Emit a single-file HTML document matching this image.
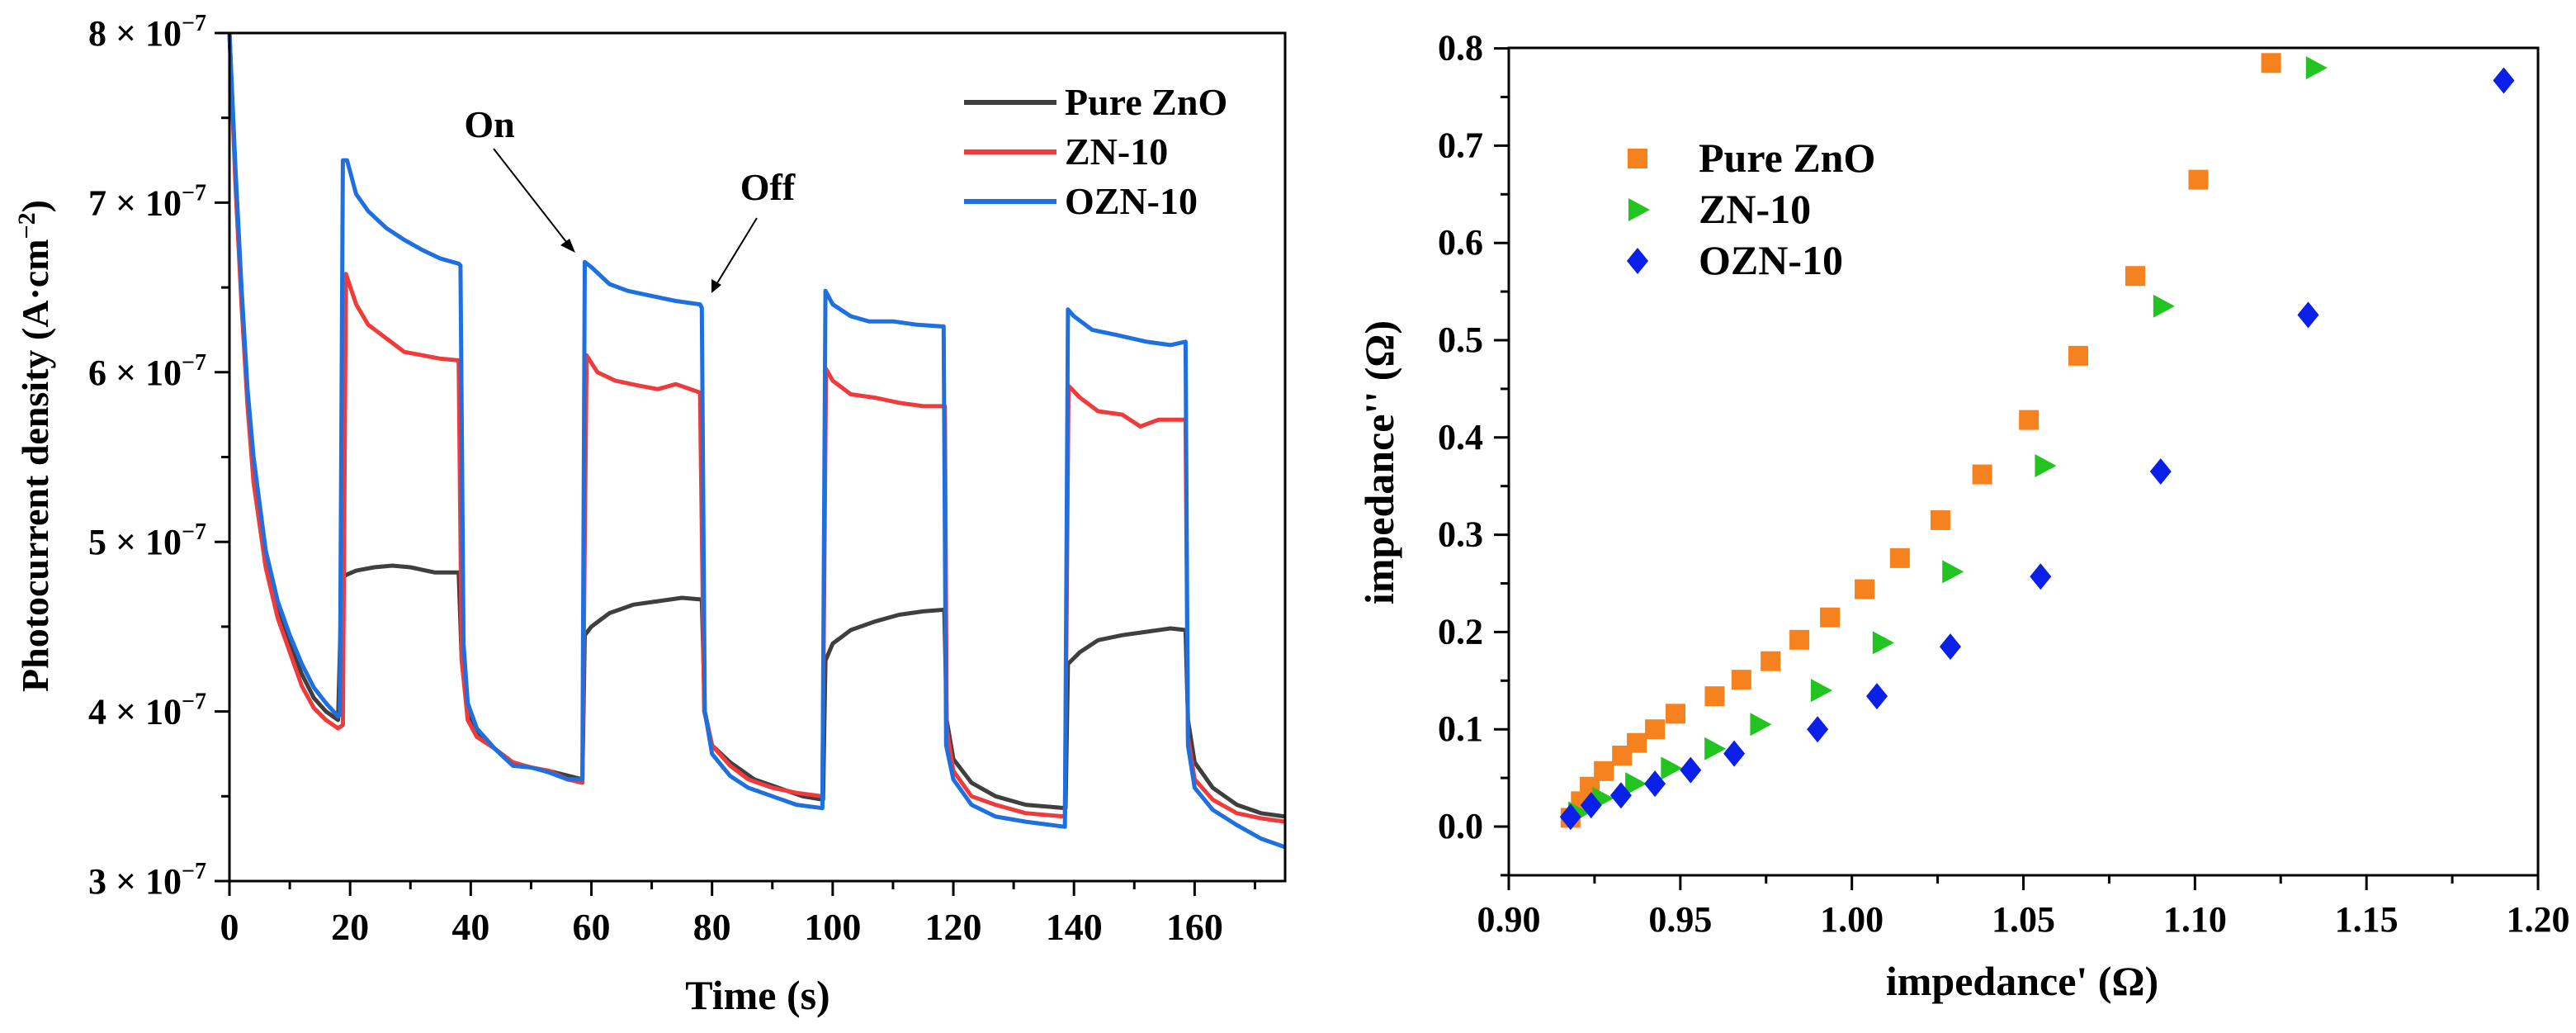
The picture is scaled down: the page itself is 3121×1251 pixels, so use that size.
<!DOCTYPE html>
<html><head><meta charset="utf-8"><style>
html,body{margin:0;padding:0;background:#fff;}
svg{display:block;font-family:"Liberation Serif","Times New Roman",serif;font-weight:bold;}
svg text{font-family:"Liberation Serif","Times New Roman",serif;}
</style></head><body>
<svg id="fig" width="3121" height="1251" viewBox="0 0 3121 1251" xmlns="http://www.w3.org/2000/svg">
<g id="left"></g>
<g id="right"></g>
</svg>
<script>
// ---- Left chart data (values in 1e-7 A/cm2) ----
const tBlue=[0,1,2,3,4,6,8,10,12,14,16,18,18.3,18.8,19.5,21,23,26,29,32,35,38,38.3,38.8,39.5,41,44,47,50,53,56,58.5,58.9,60,63,66,70,74,78,78.3,78.8,80,83,86,90,94,98.3,98.8,100,103,106,110,114,118,118.4,118.8,120,123,127,132,138.5,139,140,143,147,152,156,158.5,158.9,160,163,167,171,175];
const vBlue=[8.0,7.2,6.5,5.9,5.5,4.95,4.65,4.45,4.28,4.14,4.05,3.97,3.98,7.25,7.25,7.05,6.95,6.85,6.78,6.72,6.67,6.64,6.63,4.4,4.05,3.9,3.78,3.68,3.67,3.64,3.6,3.6,6.65,6.62,6.52,6.48,6.45,6.42,6.4,6.38,4.0,3.75,3.62,3.55,3.5,3.45,3.43,6.48,6.4,6.33,6.3,6.3,6.28,6.27,6.27,3.8,3.6,3.45,3.38,3.35,3.32,6.37,6.33,6.25,6.22,6.18,6.16,6.18,3.8,3.55,3.42,3.33,3.25,3.2];
const tRed=[0,1,2,3,4,6,8,10,12,14,16,18,18.8,19.3,21,23,26,29,32,35,38,38.5,39.5,41,44,47,50,53,56,58.5,59.2,61,64,68,71,74,78,78.7,80,83,86,90,94,98.3,98.9,100,103,107,111,115,118.6,118.9,120,123,127,132,138.5,139.1,141,144,148,151,154,158.5,158.9,160,163,167,171,175];
const vRed=[8.0,7.1,6.4,5.8,5.35,4.85,4.55,4.35,4.15,4.02,3.95,3.9,3.92,6.58,6.4,6.28,6.2,6.12,6.1,6.08,6.07,4.3,3.95,3.85,3.78,3.7,3.67,3.65,3.6,3.58,6.1,6.0,5.95,5.92,5.9,5.93,5.88,4.0,3.8,3.68,3.6,3.55,3.52,3.5,6.02,5.95,5.87,5.85,5.82,5.8,5.8,3.9,3.65,3.5,3.45,3.4,3.38,5.92,5.85,5.77,5.75,5.68,5.72,5.72,3.85,3.6,3.48,3.4,3.37,3.35];
const tBlack=[0,1,2,3,4,6,8,10,12,14,16,18,18.6,19,21,24,27,30,34,38,38.5,39.5,41,44,47,50,54,58.5,58.9,60,63,67,71,75,78.3,78.8,80,83,87,91,95,98.4,98.8,100,103,107,111,115,118.5,118.9,120,123,127,132,138.6,139,141,144,148,152,156,158.5,158.9,160,163,167,171,175];
const vBlack=[8.0,7.15,6.45,5.85,5.42,4.9,4.6,4.4,4.22,4.08,4.0,3.95,4.75,4.8,4.83,4.85,4.86,4.85,4.82,4.82,4.3,4.0,3.88,3.78,3.68,3.67,3.64,3.6,4.45,4.5,4.58,4.63,4.65,4.67,4.66,4.0,3.8,3.7,3.6,3.55,3.5,3.48,4.3,4.4,4.48,4.53,4.57,4.59,4.6,3.95,3.72,3.58,3.5,3.45,3.43,4.28,4.35,4.42,4.45,4.47,4.49,4.48,3.95,3.7,3.55,3.45,3.4,3.38];
const leftXTicks=[0,20,40,60,80,100,120,140,160];
const leftYTicks=[3,4,5,6,7,8];
const leftLegend=["Pure ZnO","ZN-10","OZN-10"];

// ---- Right chart data ----
const zX=[0.918,0.921,0.9236,0.9277,0.933,0.9373,0.9426,0.9486,0.960,0.9678,0.9763,0.9847,0.9936,1.0037,1.014,1.0258,1.038,1.0516,1.066,1.0826,1.101,1.1222];
const zY=[0.009,0.026,0.041,0.057,0.073,0.086,0.100,0.116,0.134,0.151,0.170,0.192,0.215,0.244,0.276,0.315,0.362,0.418,0.484,0.566,0.665,0.785];
const nX=[0.920,0.927,0.9366,0.947,0.9597,0.973,0.9907,1.0087,1.029,1.056,1.0905,1.135];
const nY=[0.014,0.029,0.044,0.060,0.080,0.105,0.140,0.189,0.262,0.371,0.535,0.780];
const oX=[0.918,0.924,0.9327,0.9426,0.953,0.9657,0.990,1.0073,1.0287,1.055,1.090,1.133,1.190];
const oY=[0.010,0.022,0.032,0.044,0.058,0.075,0.100,0.134,0.185,0.257,0.365,0.526,0.767];
const rightXTicks=["0.90","0.95","1.00","1.05","1.10","1.15","1.20"];
const rightYTicks=["0.0","0.1","0.2","0.3","0.4","0.5","0.6","0.7","0.8"];

const NS="http://www.w3.org/2000/svg";
function mk(parent,tag,attrs,text){const e=document.createElementNS(NS,tag);for(const k in attrs)e.setAttribute(k,attrs[k]);if(text!==undefined)e.textContent=text;parent.appendChild(e);return e;}

// ===== LEFT =====
const L=document.getElementById('left');
const lx=v=>278+(v/175)*(1557-278);
const ly=v=>1067-(v-3)/5*(1067-40);
function series(t,v,color,name){
  let d='';for(let i=0;i<t.length;i++)d+=(i?'L':'M')+lx(t[i]).toFixed(1)+' '+ly(v[i]).toFixed(1);
  const p=mk(L,'path',{d:d,fill:'none',stroke:color,'stroke-width':5,'stroke-linejoin':'round'});
  
  
}
series(tBlack,vBlack,'#3f3f3f','pure-zno-line');
series(tRed,vRed,'#ef3b3b','zn-10-line');
series(tBlue,vBlue,'#1e6fe0','ozn-10-line');
const lframe=mk(L,'rect',{x:278,y:40,width:1279,height:1027,fill:'none',stroke:'#000','stroke-width':3});


for(let v=0;v<=175;v+=10){const maj=v%20===0;mk(L,'line',{x1:lx(v),x2:lx(v),y1:1067,y2:1067+(maj?18:10),stroke:'#000','stroke-width':3});}
leftXTicks.forEach(v=>{const e=mk(L,'text',{x:lx(v),y:1138,'text-anchor':'middle','font-size':46},String(v));});
for(let v=3;v<=8;v+=0.5){const maj=Math.abs(v-Math.round(v))<1e-6;mk(L,'line',{x1:278,x2:278-(maj?18:10),y1:ly(v),y2:ly(v),stroke:'#000','stroke-width':3});}
leftYTicks.forEach(v=>{const e=mk(L,'text',{x:250,y:ly(v)+15,'text-anchor':'end','font-size':44});
  
  mk(e,'tspan',{},v+' \u00d7 10');mk(e,'tspan',{dy:-18,'font-size':28},'\u22127');});
const xt=mk(L,'text',{x:918,y:1222,'text-anchor':'middle','font-size':50},'Time (s)');

const yt=mk(L,'text',{x:0,y:0,'text-anchor':'middle','font-size':46,transform:'translate(58,540) rotate(-90)'});

mk(yt,'tspan',{},'Photocurrent density (A\u00b7cm');mk(yt,'tspan',{dy:-16,'font-size':30},'\u22122');mk(yt,'tspan',{dy:16},')');
const lcol=['#3f3f3f','#ef3b3b','#1e6fe0'];
leftLegend.forEach((s,i)=>{const y=124+i*60;
  const ln=mk(L,'line',{x1:1168,x2:1280,y1:y,y2:y,stroke:lcol[i],'stroke-width':6});
  
  const t=mk(L,'text',{x:1290,y:y+15,'font-size':46},s);
  });
// annotations
const on=mk(L,'text',{x:593,y:166,'text-anchor':'middle','font-size':46},'On');

const off=mk(L,'text',{x:930,y:242,'text-anchor':'middle','font-size':46},'Off');

mk(L,'line',{x1:598,y1:180,x2:690,y2:298,stroke:'#000','stroke-width':2});
mk(L,'polygon',{points:'697,306 679,297 690,289',fill:'#000'});
mk(L,'line',{x1:917,y1:264,x2:867,y2:346,stroke:'#000','stroke-width':2});
mk(L,'polygon',{points:'862,355 862,338 874,345',fill:'#000'});

// ===== RIGHT =====
const R=document.getElementById('right');
const rx=v=>1828+(v-0.9)/0.3*(3075-1828);
const ry=v=>1001-v/0.1*117.8;
const rframe=mk(R,'rect',{x:1828,y:58,width:1247,height:1002,fill:'none',stroke:'#000','stroke-width':3});

for(let i=0;i<=12;i++){const v=0.9+i*0.025;const maj=i%2===0;mk(R,'line',{x1:rx(v),x2:rx(v),y1:1060,y2:1060+(maj?18:10),stroke:'#000','stroke-width':3});}
rightXTicks.forEach(s=>{const e=mk(R,'text',{x:rx(parseFloat(s)),y:1128,'text-anchor':'middle','font-size':44},s);});
for(let i=-1;i<=16;i++){const v=i*0.05;if(ry(v)<57)continue;const maj=i%2===0;mk(R,'line',{x1:1828,x2:1828-(maj?18:10),y1:ry(v),y2:ry(v),stroke:'#000','stroke-width':3});}
rightYTicks.forEach(s=>{const e=mk(R,'text',{x:1797,y:ry(parseFloat(s))+14,'text-anchor':'end','font-size':44},s);});
const rxt=mk(R,'text',{x:2450,y:1205,'text-anchor':'middle','font-size':50},"impedance' (\u03a9)");

const ryt=mk(R,'text',{x:0,y:0,'text-anchor':'middle','font-size':50,transform:'translate(1688,560) rotate(-90)'},"impedance'' (\u03a9)");

function sq(x,y){return mk(R,'rect',{x:x-12,y:y-12,width:24,height:24,fill:'#f5821f'});}
function tri(x,y){return mk(R,'polygon',{points:`${x-11},${y-14} ${x+15},${y} ${x-11},${y+14}`,fill:'#22c51f'});}
function dia(x,y){return mk(R,'polygon',{points:`${x},${y-16} ${x+13},${y} ${x},${y+16} ${x-13},${y}`,fill:'#0a1fe8'});}
zX.forEach((v,i)=>{const e=sq(rx(v),ry(zY[i]));});
nX.forEach((v,i)=>{const e=tri(rx(v),ry(nY[i]));});
oX.forEach((v,i)=>{const e=dia(rx(v),ry(oY[i]));});
const rl=[["Pure ZnO",sq],["ZN-10",tri],["OZN-10",dia]];
rl.forEach((p,i)=>{const y=192+i*62;const m=p[1](1984,y);
  
  const t=mk(R,'text',{x:2058,y:y+16,'font-size':50},p[0]);
  });
</script>
</body></html>
